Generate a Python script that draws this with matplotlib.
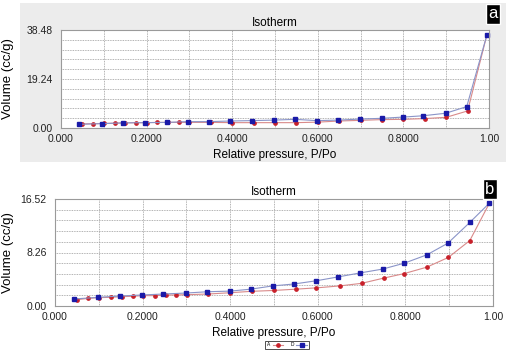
import numpy as np
import matplotlib
matplotlib.use("Agg")
import matplotlib.pyplot as plt
from matplotlib.patches import Rectangle
from matplotlib.ticker import MultipleLocator

plt.rcParams['font.family'] = ['Liberation Sans', 'DejaVu Sans']

# panel a : adsorption (red) / desorption (blue)
a_ads_p = [0.05, 0.075, 0.10, 0.125, 0.15, 0.175, 0.20, 0.225, 0.25, 0.275, 0.30,
           0.35, 0.40, 0.45, 0.50, 0.55, 0.60, 0.65, 0.70, 0.75, 0.80, 0.85, 0.90, 0.95, 0.995]
a_ads_v = [1.6, 1.7, 1.8, 1.9, 2.0, 2.1, 2.1, 2.2, 2.2, 2.2, 2.2,
           2.2, 2.1, 2.1, 2.1, 2.1, 2.3, 2.75, 3.0, 3.3, 3.4, 3.7, 4.2, 6.7, 36.5]
a_des_p = [0.995, 0.948, 0.899, 0.846, 0.80, 0.749, 0.698, 0.648, 0.597, 0.547,
           0.498, 0.446, 0.396, 0.346, 0.296, 0.247, 0.196, 0.145, 0.095, 0.042]
a_des_v = [36.5, 8.4, 5.8, 4.8, 4.3, 3.8, 3.5, 3.1, 2.9, 3.4,
           3.1, 2.9, 2.75, 2.5, 2.5, 2.2, 2.1, 2.0, 1.7, 1.45]

# panel b
b_ads_p = [0.051, 0.076, 0.10, 0.127, 0.152, 0.177, 0.20, 0.228, 0.253, 0.276, 0.302,
           0.35, 0.40, 0.45, 0.50, 0.55, 0.597, 0.65, 0.70, 0.75, 0.797, 0.849, 0.898, 0.947, 0.992]
b_ads_v = [0.98, 1.18, 1.29, 1.34, 1.44, 1.5, 1.6, 1.6, 1.7, 1.7, 1.75,
           1.85, 2.05, 2.27, 2.4, 2.6, 2.8, 3.1, 3.5, 4.3, 5.0, 6.0, 7.5, 10.1, 15.9]
b_des_p = [0.992, 0.947, 0.897, 0.849, 0.797, 0.748, 0.696, 0.647, 0.597, 0.546,
           0.497, 0.447, 0.40, 0.348, 0.299, 0.247, 0.198, 0.148, 0.099, 0.043]
b_des_v = [15.9, 12.9, 9.7, 7.9, 6.6, 5.7, 5.1, 4.5, 3.9, 3.4,
           3.1, 2.6, 2.3, 2.2, 2.0, 1.85, 1.7, 1.54, 1.34, 1.08]

a_ymax = 38.48
b_ymax = 16.52
x_ticks = [0.0, 0.2, 0.4, 0.6, 0.8, 1.0]
x_labels = ['0.000', '0.2000', '0.4000', '0.6000', '0.8000', '1.00']

W, H = 512, 353
fig = plt.figure(figsize=(W / 100, H / 100), dpi=100)

# grey panel behind chart a
bg = Rectangle((20 / W, 1 - 162 / H), 486 / W, 159 / H, transform=fig.transFigure,
               facecolor='#ececec', edgecolor='none', zorder=-5)
fig.add_artist(bg)

ax_a = fig.add_axes([61 / W, 1 - 128 / H, 428 / W, 98 / H])
ax_b = fig.add_axes([55 / W, 1 - 306 / H, 438 / W, 107 / H])


def style(ax, ymax, lab_x):
	ax.set_facecolor('white')
	ax.set_xlim(0, 1.0)
	ax.set_ylim(0, ymax)
	ax.set_xticks(x_ticks)
	ax.set_xticklabels(x_labels)
	ax.set_yticks([0, ymax / 2, ymax])
	ax.set_yticklabels(['%.2f' % v for v in [0, ymax / 2, ymax]])
	ax.xaxis.set_minor_locator(MultipleLocator(0.1))
	ax.yaxis.set_minor_locator(MultipleLocator(ymax / 10))
	ax.grid(which='both', axis='x', color='#999999', linestyle=(0, (1, 1)), linewidth=0.6)
	ax.grid(which='both', axis='y', color='#999999', linestyle=(0, (1, 1)), linewidth=0.6)
	ax.tick_params(which='both', length=0, labelsize=7.5, colors='#222222')
	ax.tick_params(axis='y', pad=6)
	ax.tick_params(axis='x', pad=4)
	for s in ax.spines.values():
		s.set_color('#9a9a9a')
		s.set_linewidth(0.8)
	ax.set_title('Isotherm', fontsize=8.5, pad=3)
	ax.set_xlabel('Relative pressure, P/Po', fontsize=8.5, labelpad=4)
	ax.set_ylabel('Volume (cc/g)', fontsize=9.5)
	ax.yaxis.set_label_coords(lab_x, 0.5)


def draw(ax, ap, av, dp, dv):
	la, = ax.plot(ap, av, color='#d98a8a', linewidth=0.8, marker='o', markersize=2.4,
	              markerfacecolor='#c8202a', markeredgecolor='#c8202a', clip_on=False, label='A')
	ld, = ax.plot(dp, dv, color='#8a94c8', linewidth=0.8, marker='s', markersize=2.8,
	              markerfacecolor='#1a1aa8', markeredgecolor='#1a1aa8', clip_on=False, label='D')
	return la, ld


style(ax_a, a_ymax, -0.110)
style(ax_b, b_ymax, -0.094)
draw(ax_a, a_ads_p, a_ads_v, a_des_p, a_des_v)
la, ld = draw(ax_b, b_ads_p, b_ads_v, b_des_p, b_des_v)

# panel letters
fig.text(493 / W, 1 - 14 / H, 'a', color='white', fontsize=12, ha='center', va='center',
         bbox=dict(boxstyle='square,pad=0.15', facecolor='black', edgecolor='white'))
fig.text(490 / W, 1 - 189 / H, 'b', color='white', fontsize=12, ha='center', va='center',
         bbox=dict(boxstyle='square,pad=0.15', facecolor='black', edgecolor='white'))

leg = fig.legend(handles=[la, ld], loc='center', bbox_to_anchor=(287 / W, 1 - 345 / H),
                 ncol=2, fontsize=3.5, frameon=True, fancybox=False, handlelength=2.2,
                 borderpad=0.3, columnspacing=1.5, handletextpad=0.5, markerfirst=False)
leg.get_frame().set_edgecolor('black')
leg.get_frame().set_linewidth(0.6)

fig.savefig('out.png', dpi=100)
